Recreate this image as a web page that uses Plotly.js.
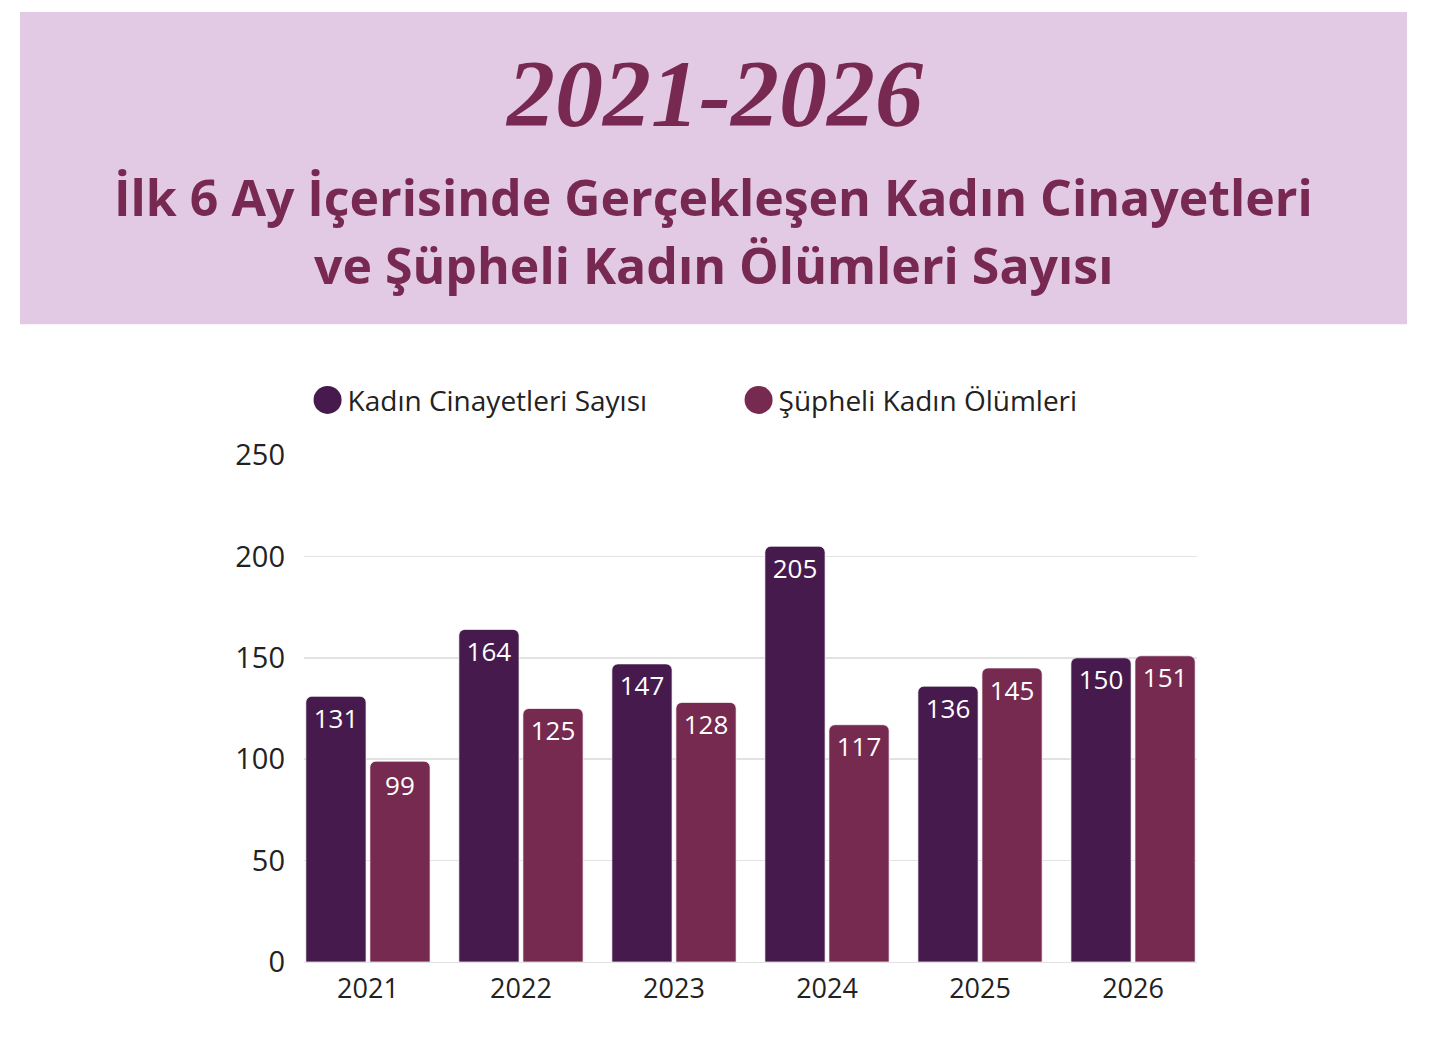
<!DOCTYPE html>
<html>
<head>
<meta charset="utf-8">
<script src="https://cdn.plot.ly/plotly-3.0.1.min.js"></script>
<style>
  body { margin: 0; background: #fff; }
  #graph { width: 1429px; height: 1047px; }
</style>
</head>
<body>
<div id="graph"></div>
<script>
// yillar ve seriler
var years = ['2021', '2022', '2023', '2024', '2025', '2026'];
var cinayet = [131, 164, 147, 205, 136, 150];
var supheli = [99, 125, 128, 117, 145, 151];
var seriesNames = ['Kadın Cinayetleri Sayısı', 'Şüpheli Kadın Ölümleri'];
var yTicks = [0, 50, 100, 150, 200, 250];

var dark = '#461A4D';
var plum = '#762A50';
var titleColor = '#772951';

function barTrace(vals, name, color) {
  return {
    type: 'bar',
    x: years,
    y: vals,
    name: name,
    showlegend: false,
    marker: { color: color, line: { color: 'rgba(255,255,255,0.7)', width: 1 } },
    text: vals.map(String),
    textposition: 'inside',
    insidetextanchor: 'end',
    textangle: 0,
    constraintext: 'none',
    textfont: { family: 'Open Sans', size: 26, color: '#ffffff' },
    hoverinfo: 'skip'
  };
}

// legend with circle markers
function legendTrace(name, color) {
  return {
    type: 'scatter', mode: 'markers',
    x: [null], y: [null], name: name,
    marker: { color: color, size: 16, symbol: 'circle' },
    showlegend: true
  };
}

var data = [
  barTrace(cinayet, seriesNames[0], dark),
  barTrace(supheli, seriesNames[1], plum),
  legendTrace(seriesNames[0], dark),
  legendTrace(seriesNames[1], plum)
];

var layout = {
  width: 1429,
  height: 1047,
  margin: { l: 304, r: 232, t: 455, b: 85 },
  paper_bgcolor: '#ffffff',
  plot_bgcolor: '#ffffff',
  barmode: 'group',
  bargap: 0.163,
  bargroupgap: 0.06,
  barcornerradius: 6,
  font: { family: 'Open Sans', color: '#222222' },
  xaxis: {
    type: 'category',
    range: [-0.418, 5.418],
    showgrid: false,
    zeroline: false,
    showline: false,
    ticks: '',
    tickfont: { family: 'Open Sans', size: 27, color: '#222222' },
    ticklabelstandoff: 8
  },
  yaxis: {
    range: [0, 250],
    tickvals: yTicks,
    showgrid: true,
    gridcolor: '#e2e2e2',
    gridwidth: 1.5,
    zeroline: true,
    zerolinecolor: '#e2e2e2',
    showline: false,
    ticks: '',
    tickfont: { family: 'Open Sans', size: 29, color: '#222222' },
    ticklabelstandoff: 18,
    fixedrange: true
  },
  legend: {
    orientation: 'h',
    x: 0.004, xanchor: 'left',
    y: 1.108, yanchor: 'middle',
    entrywidth: 386, entrywidthmode: 'pixels',
    font: { family: 'Open Sans', size: 28, color: '#222222' },
    itemclick: false, itemdoubleclick: false,
    bgcolor: 'rgba(0,0,0,0)'
  },
  shapes: [{
    type: 'rect', xref: 'paper', yref: 'paper',
    x0: -0.318, x1: 1.2352, y0: 1.258, y1: 1.874,
    fillcolor: '#E3CAE4', line: { width: 0 }, layer: 'below'
  }],
  annotations: [
    {
      xref: 'paper', yref: 'paper', x: 0.459, y: 1.714,
      xanchor: 'center', yanchor: 'middle', showarrow: false,
      text: '<b><i>2021-2026</i></b>',
      font: { family: 'Liberation Serif', size: 96, color: titleColor }
    },
    {
      xref: 'paper', yref: 'paper', x: 0.459, y: 1.509,
      xanchor: 'center', yanchor: 'middle', showarrow: false,
      text: '<b>İlk 6 Ay İçerisinde Gerçekleşen Kadın Cinayetleri</b>',
      font: { family: 'Open Sans', size: 50, color: titleColor }
    },
    {
      xref: 'paper', yref: 'paper', x: 0.459, y: 1.375,
      xanchor: 'center', yanchor: 'middle', showarrow: false,
      text: '<b>ve Şüpheli Kadın Ölümleri Sayısı</b>',
      font: { family: 'Open Sans', size: 50, color: titleColor }
    }
  ]
};

Plotly.newPlot('graph', data, layout, { displayModeBar: false, staticPlot: true }).then(function () {
  // make legend dots bigger, like the original
  document.querySelectorAll('.legend path.scatterpts').forEach(function (p) {
    var t = p.getAttribute('transform') || '';
    p.setAttribute('transform', t + ' scale(1.75)');
  });
});
</script>
</body>
</html>
